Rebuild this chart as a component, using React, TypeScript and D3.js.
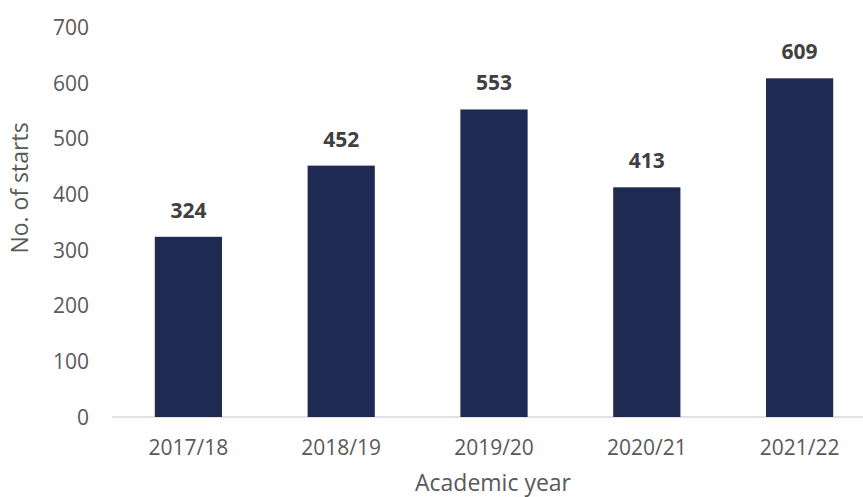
import React from "react";
import * as d3 from "d3";

const categories = ["2017/18", "2018/19", "2019/20", "2020/21", "2021/22"];
const values = [324, 452, 553, 413, 609];
const yTicks = [0, 100, 200, 300, 400, 500, 600, 700];

const W = 863;
const H = 497;
const margin = { left: 112, right: -13, top: 27.7, bottom: 80 };
const FONT = "'Open Sans', sans-serif";

export default function App() {
  const x = d3
    .scaleBand<string>()
    .domain(categories)
    .range([margin.left, W - margin.right])
    .paddingInner(0.56)
    .paddingOuter(0.28);
  const y = d3.scaleLinear().domain([0, 700]).range([417, margin.top]);

  return (
    <svg width={W} height={H} style={{ position: "absolute", left: 0, top: 0 }} fontFamily={FONT}>
      <rect width={W} height={H} fill="#ffffff" />
      {yTicks.map((t) => (
        <text key={t} x={89} y={y(t)} dy="0.36em" textAnchor="end" fontSize={21} fill="#595959">
          {t}
        </text>
      ))}
      <line x1={margin.left} x2={W - margin.right} y1={y(0)} y2={y(0)} stroke="#d9d9d9" strokeWidth={1.5} />
      {categories.map((c, i) => (
        <g key={c}>
          <rect x={x(c)} y={y(values[i])} width={x.bandwidth()} height={y(0) - y(values[i])} fill="#1f2a52" />
          <text x={x(c)! + x.bandwidth() / 2} y={y(values[i]) - 19} textAnchor="middle" fontSize={21} fontWeight="bold" fill="#404040">
            {values[i]}
          </text>
          <text x={x(c)! + x.bandwidth() / 2} y={455} textAnchor="middle" fontSize={21} fill="#595959">
            {c}
          </text>
        </g>
      ))}
      <text transform={`translate(28,188) rotate(-90)`} textAnchor="middle" fontSize={23} fill="#595959">
        No. of starts
      </text>
      <text x={493} y={491} textAnchor="middle" fontSize={23} fill="#595959">
        Academic year
      </text>
    </svg>
  );
}
